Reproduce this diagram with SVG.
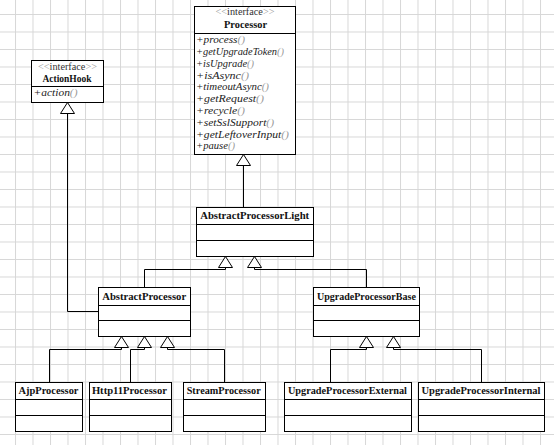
<svg xmlns="http://www.w3.org/2000/svg" width="554" height="445" viewBox="0 0 554 445">
<defs>
<pattern id="grid" x="15" y="14" width="17.5" height="17.5" patternUnits="userSpaceOnUse">
<path d="M0.5 0V17.5M0 0.5H17.5" stroke="#d7d7d7" stroke-width="1" fill="none"/>
</pattern>
<style>
.box{fill:#fff;stroke:#000;stroke-width:1}
.ln{fill:none;stroke:#000;stroke-width:1}
.tri{fill:#fff;stroke:#000;stroke-width:1}
.cn{font-family:"Liberation Serif","Times New Roman",serif;font-weight:bold;font-size:10.5px;fill:#111;text-anchor:middle}
.st{font-family:"Liberation Serif","Times New Roman",serif;font-size:10px;fill:#333;text-anchor:middle}
.st .g{fill:#999}
.m{font-family:"Liberation Serif","Times New Roman",serif;font-style:italic;font-size:10px;fill:#222}
.m .p{fill:#999}
</style>
</defs>
<rect width="554" height="445" fill="#fff"/>
<rect width="554" height="445" fill="url(#grid)"/>

<g id="connectors">
<path class="ln" d="M67.5 113.5V311.5H98.5"/>
<path class="ln" d="M243.5 165.5V207.5"/>
<path class="ln" d="M144.5 287.5V269.5H225.5V267.5"/>
<path class="ln" d="M366.5 287.5V269.5H254.5V267.5"/>
<path class="ln" d="M49.5 382.5V349.5H121.5V347.5"/>
<path class="ln" d="M130.5 382.5V349.5H144.5V347.5"/>
<path class="ln" d="M224.5 382.5V349.5H167.5V347.5"/>
<path class="ln" d="M330.5 382.5V349.5H366.5V347.5"/>
<path class="ln" d="M481.5 382.5V349.5H393.5V347.5"/>
<polygon class="tri" points="67.5,102.5 74.5,113.5 60.5,113.5"/>
<polygon class="tri" points="243.5,154.5 250.5,165.5 236.5,165.5"/>
<polygon class="tri" points="225.5,256.5 232.5,267.5 218.5,267.5"/>
<polygon class="tri" points="254.5,256.5 261.5,267.5 247.5,267.5"/>
<polygon class="tri" points="121.5,336.5 128.5,347.5 114.5,347.5"/>
<polygon class="tri" points="144.5,336.5 151.5,347.5 137.5,347.5"/>
<polygon class="tri" points="167.5,336.5 174.5,347.5 160.5,347.5"/>
<polygon class="tri" points="366.5,336.5 373.5,347.5 359.5,347.5"/>
<polygon class="tri" points="393.5,336.5 400.5,347.5 386.5,347.5"/>
</g>

<g id="Processor">
<rect class="box" x="194.5" y="6.5" width="101" height="148"/>
<path class="ln" d="M194.5 33.5H295.5"/>
<text class="st" x="245" y="14.5" textLength="59" lengthAdjust="spacingAndGlyphs"><tspan class="g">&lt;&lt;</tspan>interface<tspan class="g">&gt;&gt;</tspan></text>
<text class="cn" x="245.5" y="27.5" textLength="43" lengthAdjust="spacingAndGlyphs">Processor</text>
<text class="m" x="196" y="43.3" textLength="49" lengthAdjust="spacingAndGlyphs">+process<tspan class="p">()</tspan></text>
<text class="m" x="196" y="55.1" textLength="88" lengthAdjust="spacingAndGlyphs">+getUpgradeToken<tspan class="p">()</tspan></text>
<text class="m" x="196" y="66.8" textLength="58" lengthAdjust="spacingAndGlyphs">+isUpgrade<tspan class="p">()</tspan></text>
<text class="m" x="196" y="78.6" textLength="53" lengthAdjust="spacingAndGlyphs">+isAsync<tspan class="p">()</tspan></text>
<text class="m" x="196" y="90.4" textLength="73" lengthAdjust="spacingAndGlyphs">+timeoutAsync<tspan class="p">()</tspan></text>
<text class="m" x="196" y="102.2" textLength="68" lengthAdjust="spacingAndGlyphs">+getRequest<tspan class="p">()</tspan></text>
<text class="m" x="196" y="113.9" textLength="49" lengthAdjust="spacingAndGlyphs">+recycle<tspan class="p">()</tspan></text>
<text class="m" x="196" y="125.7" textLength="78" lengthAdjust="spacingAndGlyphs">+setSslSupport<tspan class="p">()</tspan></text>
<text class="m" x="196" y="137.5" textLength="93" lengthAdjust="spacingAndGlyphs">+getLeftoverInput<tspan class="p">()</tspan></text>
<text class="m" x="196" y="149.2" textLength="39" lengthAdjust="spacingAndGlyphs">+pause<tspan class="p">()</tspan></text>
</g>

<g id="ActionHook">
<rect class="box" x="31.5" y="60.5" width="72" height="42"/>
<path class="ln" d="M31.5 86.5H103.5"/>
<text class="st" x="67.5" y="69.5" textLength="59" lengthAdjust="spacingAndGlyphs"><tspan class="g">&lt;&lt;</tspan>interface<tspan class="g">&gt;&gt;</tspan></text>
<text class="cn" x="67" y="81.8" textLength="49" lengthAdjust="spacingAndGlyphs">ActionHook</text>
<text class="m" x="33.5" y="96" textLength="44" lengthAdjust="spacingAndGlyphs">+action<tspan class="p">()</tspan></text>
</g>

<g id="AbstractProcessorLight">
<rect class="box" x="196.5" y="207.5" width="117" height="49"/>
<path class="ln" d="M196.5 224.5H313.5M196.5 240.5H313.5"/>
<text class="cn" x="254.7" y="218.7" textLength="109" lengthAdjust="spacingAndGlyphs">AbstractProcessorLight</text>
</g>

<g id="AbstractProcessor">
<rect class="box" x="98.5" y="287.5" width="92" height="49"/>
<path class="ln" d="M98.5 305.5H190.5M98.5 320.5H190.5"/>
<text class="cn" x="144.2" y="299.5" textLength="84" lengthAdjust="spacingAndGlyphs">AbstractProcessor</text>
</g>

<g id="UpgradeProcessorBase">
<rect class="box" x="313.5" y="287.5" width="106" height="49"/>
<path class="ln" d="M313.5 305.5H419.5M313.5 320.5H419.5"/>
<text class="cn" x="366.4" y="299.5" textLength="99" lengthAdjust="spacingAndGlyphs">UpgradeProcessorBase</text>
</g>

<g id="AjpProcessor">
<rect class="box" x="15.5" y="382.5" width="67" height="49"/>
<path class="ln" d="M15.5 399.5H82.5M15.5 415.5H82.5"/>
<text class="cn" x="48.5" y="394" textLength="60" lengthAdjust="spacingAndGlyphs">AjpProcessor</text>
</g>

<g id="Http11Processor">
<rect class="box" x="89.5" y="382.5" width="82" height="49"/>
<path class="ln" d="M89.5 399.5H171.5M89.5 415.5H171.5"/>
<text class="cn" x="129.4" y="394" textLength="75" lengthAdjust="spacingAndGlyphs">Http11Processor</text>
</g>

<g id="StreamProcessor">
<rect class="box" x="183.5" y="382.5" width="82" height="49"/>
<path class="ln" d="M183.5 399.5H265.5M183.5 415.5H265.5"/>
<text class="cn" x="223.7" y="394" textLength="74" lengthAdjust="spacingAndGlyphs">StreamProcessor</text>
</g>

<g id="UpgradeProcessorExternal">
<rect class="box" x="284.5" y="382.5" width="127" height="49"/>
<path class="ln" d="M284.5 399.5H411.5M284.5 415.5H411.5"/>
<text class="cn" x="347.4" y="394" textLength="119" lengthAdjust="spacingAndGlyphs">UpgradeProcessorExternal</text>
</g>

<g id="UpgradeProcessorInternal">
<rect class="box" x="418.5" y="382.5" width="126" height="49"/>
<path class="ln" d="M418.5 399.5H544.5M418.5 415.5H544.5"/>
<text class="cn" x="481" y="394" textLength="119" lengthAdjust="spacingAndGlyphs">UpgradeProcessorInternal</text>
</g>
</svg>
